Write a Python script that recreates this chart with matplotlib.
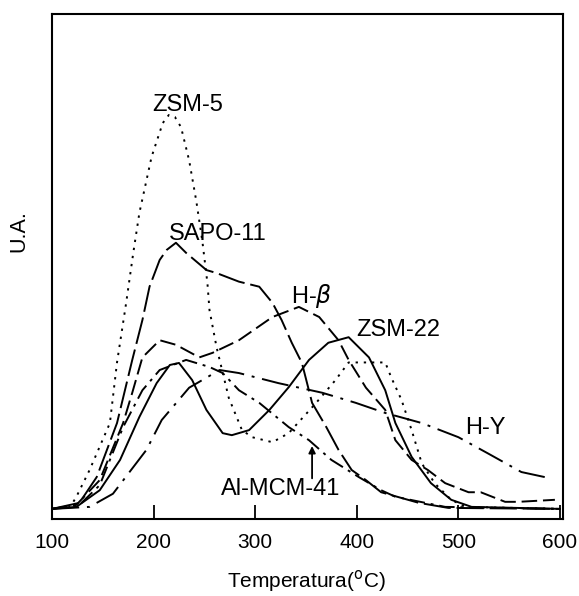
import matplotlib.pyplot as plt

plt.rcParams['font.family'] = ['Liberation Sans', 'DejaVu Sans']

# temperaturas (oC) e intensidades (u.a.)
t_zsm5 = [100, 118, 124, 137, 157, 164, 173, 180, 186, 198, 209, 215, 221, 227, 235,
          242, 248, 253, 255, 262, 274, 287, 297, 317, 333, 360, 379, 392, 412, 428,
          434, 444, 454, 464, 477, 493, 507, 600]
i_zsm5 = [2, 2.4, 4.4, 9.7, 19, 31, 42.8, 52.7, 60.6, 71.7, 78.4, 80, 79.6, 77.6, 71,
          63, 55, 46.7, 41.4, 34, 24, 17.6, 16.2, 15.2, 17, 23, 27.5, 31, 31, 31,
          28, 23.6, 17.6, 11, 7, 3.8, 2.4, 2]

t_sapo = [100, 127, 144, 164, 179, 189, 196, 206, 213, 222, 232, 252, 262, 284, 304,
          317, 326, 336, 346, 356, 370, 382, 395, 409, 424, 461, 490, 600]
i_sapo = [2, 3.2, 8.3, 19, 31.5, 39.4, 46, 51.3, 53.3, 54.7, 52.7, 49.3, 48.7, 47, 46,
          42.8, 39.4, 34.9, 30.9, 23, 18.2, 13.7, 9.7, 7.7, 5.3, 3.2, 2.2, 2]

t_hbeta = [100, 124, 147, 170, 179, 189, 206, 222, 245, 258, 284, 317, 343, 363, 382,
           392, 409, 428, 438, 454, 470, 487, 510, 522, 546, 559, 595]
i_hbeta = [2, 2.8, 7.7, 19, 25, 32, 35.4, 34.5, 32, 32.9, 35.4, 40, 42, 40, 35.4,
           31.5, 26, 21.6, 15.6, 11.7, 9.7, 7.1, 5.3, 5.3, 3.4, 3.4, 3.8]

t_zsm22 = [100, 124, 147, 167, 186, 203, 216, 225, 238, 252, 268, 277, 294, 314, 333,
           353, 372, 392, 412, 428, 438, 454, 473, 493, 513, 600]
i_zsm22 = [2, 2.4, 5.7, 11.7, 20.2, 26.9, 30.5, 30.9, 27.5, 21.6, 17, 16.6, 17.6, 21.6,
           26.1, 31.5, 34.9, 36, 32, 25.5, 19, 12.3, 7.1, 3.8, 2.4, 2]

t_mcm = [100, 127, 147, 170, 189, 206, 232, 255, 268, 284, 304, 333, 353, 375, 402,
         424, 438, 487, 600]
i_mcm = [2, 2.8, 6.7, 18.2, 25.5, 29.5, 31.5, 30.1, 28.9, 25.5, 23, 18.2, 15.6, 11.7,
         8.3, 5.7, 4.4, 2.4, 2]

t_hy = [100, 137, 160, 193, 208, 235, 265, 284, 323, 366, 399, 428, 464, 500, 529,
        562, 585]
i_hy = [2, 2.4, 5, 13.7, 19.6, 26, 29.5, 28.9, 26.9, 25, 23, 21, 19, 16.2, 13,
        9.3, 8.3]

fig = plt.figure(figsize=(5.79, 5.96), dpi=100)
ax = fig.add_axes([0.0898, 0.1292, 0.8826, 0.8473])

lw = 1.4
ax.plot(t_zsm5, i_zsm5, color='black', lw=lw, linestyle=(0, (1.2, 3)))
ax.plot(t_sapo, i_sapo, color='black', lw=lw, linestyle=(0, (14, 3)))
ax.plot(t_hbeta, i_hbeta, color='black', lw=lw, linestyle=(0, (8, 3)))
ax.plot(t_zsm22, i_zsm22, color='black', lw=lw, linestyle='-')
ax.plot(t_mcm, i_mcm, color='black', lw=lw, linestyle=(0, (8, 3, 1.5, 3)))
ax.plot(t_hy, i_hy, color='black', lw=lw, linestyle=(0, (14, 4, 1.5, 4)))

fs = 17
ax.text(234, 82, 'ZSM-5', fontsize=fs, ha='center', va='center')
ax.text(263, 56.5, 'SAPO-11', fontsize=fs, ha='center', va='center')
ax.text(356, 44.2, r'H-$\it{\beta}$', fontsize=fs, ha='center', va='center')
ax.text(441, 37.4, 'ZSM-22', fontsize=fs, ha='center', va='center')
ax.text(527, 18, 'H-Y', fontsize=fs, ha='center', va='center')
ax.text(325, 5.9, 'Al-MCM-41', fontsize=fs, ha='center', va='center')
ax.annotate('', xy=(356, 15), xytext=(356, 7.5),
            arrowprops=dict(arrowstyle='-|>', color='black', lw=1.3, mutation_scale=10))

ax.set_xlim(100, 603)
ax.set_ylim(0, 100)
ax.set_xticks([100, 200, 300, 400, 500, 600])
ax.set_yticks([])
ax.tick_params(axis='x', direction='in', length=10, width=1.3, labelsize=15, pad=10)
for s in ax.spines.values():
    s.set_linewidth(1.5)

fig.text(306 / 579, 1 - 587 / 596, 'Temperatura($^{\\mathrm{o}}$C)', fontsize=15,
         ha='center', va='baseline')
fig.text(19 / 579, 1 - 231 / 596, 'U.A.', fontsize=15.5, rotation=90,
         ha='center', va='center')

plt.savefig('out.png', dpi=100)
plt.close()
